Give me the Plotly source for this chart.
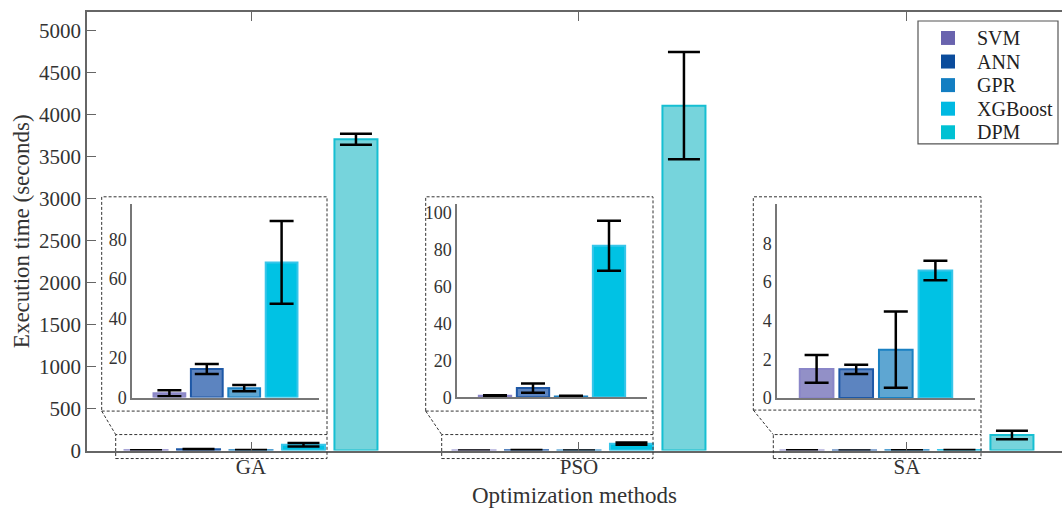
import plotly.graph_objects as go

W, H = 1062, 508
H_EFF = 497.5  # vertical extent of the rendered paper

methods = ["GA", "PSO", "SA"]
models = ["SVM", "ANN", "GPR", "XGBoost", "DPM"]

svm_vals = [2.2, 0.8, 1.5]
ann_vals = [14.5, 5.0, 1.48]
gpr_vals = [4.8, 0.5, 2.5]
xgb_vals = [68.5, 82.0, 6.6]
dpm_vals = [3710, 4110, 185]

svm_err = [1.5, 0.3, 0.72]
ann_err = [2.5, 2.5, 0.24]
gpr_err = [1.6, 0.3, 1.97]
xgb_err = [21.0, 13.5, 0.5]
dpm_err = [65, 640, 50]

y_ticks = [0, 500, 1000, 1500, 2000, 2500, 3000, 3500, 4000, 4500, 5000]
inset_ticks = [[0, 20, 40, 60, 80], [0, 20, 40, 60, 80, 100], [0, 2, 4, 6, 8]]
inset_ranges = [98.2, 104.5, 10.04]

legend_colors = ["#6963ae", "#0b4c9c", "#137ec2", "#00b9e2", "#00c1d3"]
fill_colors = ["rgba(140,138,196,0.95)", "rgba(92,132,192,1)", "rgba(94,166,210,1)",
               "rgba(0,194,228,1)", "rgba(118,212,220,1)"]
edge_colors = ["#8a86c8", "#1e58a6", "#1a80c2", "#38c6ea", "#16bfd2"]

vals = [svm_vals, ann_vals, gpr_vals, xgb_vals, dpm_vals]
errs = [svm_err, ann_err, gpr_err, xgb_err, dpm_err]

FONT = "Liberation Serif"


def px(x):
    return x / W


def py(y):
    return 1 - y / H_EFF


fig = go.Figure()

for i, m in enumerate(models):
    fig.add_trace(go.Bar(
        x=methods, y=vals[i], name=m, showlegend=False,
        marker=dict(color=fill_colors[i], line=dict(color=edge_colors[i], width=2)),
        error_y=dict(type="data", array=errs[i], color="black", thickness=2.5, width=16),
        xaxis="x", yaxis="y",
    ))

inset_dom = [
    ((132, 319), (397, 203)),
    ((457, 647), (396.7, 203.3)),
    ((777, 975), (397.3, 203.3)),
]
for k in range(3):
    xs = [1, 2, 3, 4]
    ys = [vals[i][k] for i in range(4)]
    es = [errs[i][k] for i in range(4)]
    ax = str(k + 2)
    fig.add_trace(go.Bar(
        x=xs, y=ys, width=0.85, showlegend=False,
        marker=dict(color=fill_colors[:4], line=dict(color=edge_colors[:4], width=2)),
        error_y=dict(type="data", array=es, color="black", thickness=2.5, width=12),
        xaxis="x" + ax, yaxis="y" + ax,
    ))

layout = dict(
    width=W, height=H, autosize=False,
    margin=dict(l=0, r=0, t=0, b=0, pad=0),
    paper_bgcolor="white", plot_bgcolor="rgba(0,0,0,0)",
    font=dict(family=FONT, color="#333333"),
    barmode="group", bargap=0.2, bargroupgap=0.18,
    showlegend=False,
    xaxis=dict(domain=[px(87), 1.0], range=[-0.5, 2.4726], type="category",
               showline=True, linecolor="#666666", linewidth=1.5, mirror="ticks",
               ticks="inside", ticklen=9, tickcolor="#666666", tickwidth=1.2,
               ticklabelstandoff=-3,
               tickfont=dict(family=FONT, size=21, color="#333333"),
               title=dict(text="Optimization methods", font=dict(family=FONT, size=23, color="#333333"),
                          standoff=8),
               showgrid=False, zeroline=False, automargin=False),
    yaxis=dict(domain=[py(450), py(11)], range=[0, 5226],
               tickvals=y_ticks, ticktext=[str(t) for t in y_ticks],
               showline=True, linecolor="#666666", linewidth=1.5,
               ticks="inside", ticklen=9, tickcolor="#666666", tickwidth=1.2,
               tickfont=dict(family=FONT, size=21, color="#333333"),
               title=dict(text="Execution time (seconds)", font=dict(family=FONT, size=23, color="#333333"),
                          standoff=3),
               showgrid=False, zeroline=False, automargin=False),
)

for k in range(3):
    (x0, x1), (y0, y1) = inset_dom[k]
    ax = str(k + 2)
    layout["xaxis" + ax] = dict(domain=[px(x0), px(x1)], range=[0, 5], anchor="y" + ax,
                                showline=True, linecolor="#777777", linewidth=1.5,
                                showticklabels=False, ticks="", showgrid=False, zeroline=False)
    layout["yaxis" + ax] = dict(domain=[py(y0), py(y1)], range=[0, inset_ranges[k]], anchor="x" + ax,
                                tickvals=inset_ticks[k], ticktext=[str(t) for t in inset_ticks[k]],
                                showline=True, linecolor="#777777", linewidth=1.5,
                                ticks="", tickfont=dict(family=FONT, size=18, color="#333333"),
                                showgrid=False, zeroline=False)

fig.update_layout(**layout)

boxes = [
    ((101.7, 196, 327, 410.5), (115.7, 434, 327, 458)),
    ((425.7, 196, 653, 410.5), (441.7, 434, 653, 458)),
    ((753.3, 196, 981, 409.5), (773.3, 434, 981, 458)),
]
line_style = dict(color="#333333", width=1, dash="3px,2px")
for (ul, ut, ur, ub), (ll, lt, lr, lb) in boxes:
    fig.add_shape(type="rect", xref="paper", yref="paper",
                  x0=px(ul), x1=px(ur), y0=py(ub), y1=py(ut), line=line_style)
    fig.add_shape(type="rect", xref="paper", yref="paper",
                  x0=px(ll), x1=px(lr), y0=py(lb), y1=py(lt), line=line_style)
    fig.add_shape(type="line", xref="paper", yref="paper",
                  x0=px(ul), y0=py(ub), x1=px(ll), y1=py(lt), line=line_style)
    fig.add_shape(type="line", xref="paper", yref="paper",
                  x0=px(ur), y0=py(ub), x1=px(lr), y1=py(lt), line=line_style)

# legend (drawn box with coloured keys and labels)
fig.add_shape(type="rect", xref="paper", yref="paper",
              x0=px(918), x1=px(1058), y0=py(143), y1=py(20),
              line=dict(color="#555555", width=1.2), fillcolor="white", layer="above")
for i, m in enumerate(models):
    yc = 37 + i * 23.6
    fig.add_shape(type="rect", xref="paper", yref="paper",
                  x0=px(941), x1=px(955), y0=py(yc + 7), y1=py(yc - 7),
                  line=dict(width=0), fillcolor=legend_colors[i], layer="above")
    fig.add_annotation(x=px(975), y=py(yc), xref="paper", yref="paper",
                       text=m, showarrow=False, xanchor="left", yanchor="middle",
                       font=dict(family=FONT, size=20, color="#222222"))

fig.write_html("out.html")
